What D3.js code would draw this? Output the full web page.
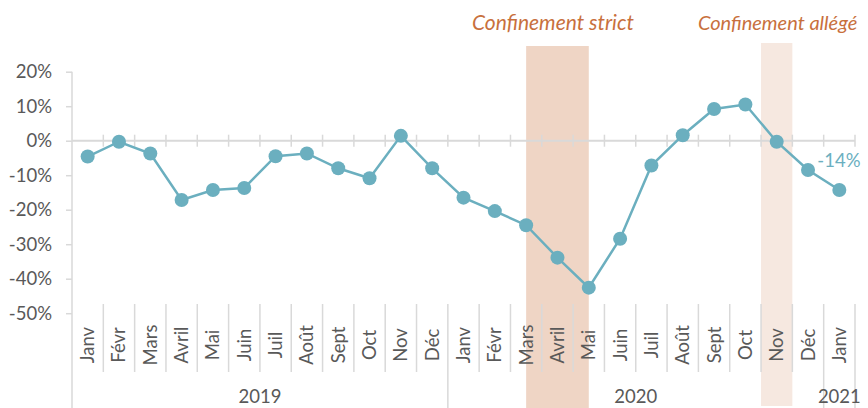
<!DOCTYPE html>
<html><head><meta charset="utf-8">
<script src="https://cdn.jsdelivr.net/npm/d3@7"></script>
<style>
body{margin:0;background:#fff;}
svg{display:block;font-family:Lato,"Noto Sans",sans-serif;}
</style></head>
<body><svg id="c" width="868" height="408"></svg>
<script>
const months = ["Janv","Févr","Mars","Avril","Mai","Juin","Juil","Août","Sept","Oct","Nov","Déc",
                "Janv","Févr","Mars","Avril","Mai","Juin","Juil","Août","Sept","Oct","Nov","Déc","Janv"];
const years = ["2019","2020","2021"];
const yearCounts = [12,12,1];
const values = [-4.6,-0.3,-3.7,-17.2,-14.3,-13.7,-4.5,-3.7,-8.0,-10.9,1.4,-8.0,
                -16.5,-20.4,-24.5,-33.9,-42.6,-28.4,-7.2,1.6,9.2,10.5,-0.3,-8.5,-14.3];
const yTicks = [20,10,0,-10,-20,-30,-40,-50];
const lastLabel = "-14%";
const strictLabel = "Confinement strict";
const lightLabel = "Confinement allégé";
const strictRange = [14,16];   // centre of Mars 2020 -> centre of Mai 2020
const lightIndex = 22;          // Nov 2020

const svg = d3.select("#c");
const left = 72, right = 855;
const x = d3.scaleBand().domain(d3.range(months.length)).range([left,right]).padding(0);
const xb = d3.scaleLinear().domain([0,months.length]).range([left,right]);
const y = d3.scaleLinear().domain([-50,20]).range([313.2,71.7]);

const axisCol = "#D9D9D9", textCol = "#595959", lineCol = "#6BAFBF", annCol = "#C8703D";
const fs = "18.5px";

// bands
svg.append("rect").attr("x", x(strictRange[0]) + x.bandwidth()/2)
  .attr("width", x(strictRange[1]) - x(strictRange[0])).attr("y",46).attr("height",408-46)
  .attr("fill","#EFD5C5");
svg.append("rect").attr("x", x(lightIndex)).attr("width", x.bandwidth())
  .attr("y",43).attr("height",406-43).attr("fill","#F6E8E0");

// y axis
const ya = svg.append("g").attr("transform",`translate(${left},0)`)
  .call(d3.axisLeft(y).tickValues(yTicks).tickSize(6).tickPadding(14).tickFormat(d=>d+"%"));
ya.select(".domain").remove();
ya.selectAll(".tick line").attr("stroke",axisCol).attr("stroke-width",1.5);
ya.selectAll(".tick text").attr("fill",textCol).style("font-size",fs).style("font-family","Lato");
svg.append("line").attr("x1",left).attr("x2",left).attr("y1",y(20)).attr("y2",408)
  .attr("stroke",axisCol).attr("stroke-width",1.5);

// x axis at 0
svg.append("line").attr("x1",left).attr("x2",right).attr("y1",y(0)).attr("y2",y(0))
  .attr("stroke",axisCol).attr("stroke-width",2);
svg.append("g").selectAll("line").data(d3.range(1,months.length+1)).join("line")
  .attr("x1",d=>xb(d)).attr("x2",d=>xb(d)).attr("y1",y(0)-6).attr("y2",y(0)+6)
  .attr("stroke",axisCol).attr("stroke-width",1.5);

// category separators
const yearBounds = [0];
yearCounts.forEach(c=>yearBounds.push(yearBounds[yearBounds.length-1]+c));
svg.append("g").selectAll("line").data(d3.range(1,months.length+1)).join("line")
  .attr("x1",d=>xb(d)).attr("x2",d=>xb(d)).attr("y1",304)
  .attr("y2",d=>yearBounds.includes(d)?408:372)
  .attr("stroke",axisCol).attr("stroke-width",1.5);

// month labels
svg.append("g").selectAll("text").data(months).join("text")
  .attr("transform",(d,i)=>`translate(${x(i)+x.bandwidth()/2+6.5},345) rotate(-90)`)
  .attr("text-anchor","middle").attr("fill",textCol).style("font-size",fs).text(d=>d);

// year labels
svg.append("g").selectAll("text").data(years).join("text")
  .attr("x",(d,i)=>(xb(yearBounds[i])+xb(yearBounds[i+1]))/2).attr("y",403)
  .attr("text-anchor","middle").attr("fill",textCol).style("font-size",fs).text(d=>d);

// line
svg.append("path").datum(values)
  .attr("d", d3.line().x((d,i)=>x(i)+x.bandwidth()/2).y(d=>y(d)))
  .attr("fill","none").attr("stroke",lineCol).attr("stroke-width",2.5);
svg.append("g").selectAll("circle").data(values).join("circle")
  .attr("cx",(d,i)=>x(i)+x.bandwidth()/2).attr("cy",d=>y(d)).attr("r",7).attr("fill",lineCol);

// last value label
svg.append("text").attr("x",x(values.length-1)+x.bandwidth()/2-22).attr("y",y(values[values.length-1])-23)
  .attr("fill",lineCol).style("font-size",fs).text(lastLabel);

// annotations
svg.append("text").attr("x", 553).attr("y",30).attr("text-anchor","middle")
  .attr("fill",annCol).style("font-size","21px").style("font-style","italic").text(strictLabel);
svg.append("text").attr("x",698).attr("y",30)
  .attr("fill",annCol).style("font-size","20px").style("font-style","italic").text(lightLabel);
</script></body></html>
